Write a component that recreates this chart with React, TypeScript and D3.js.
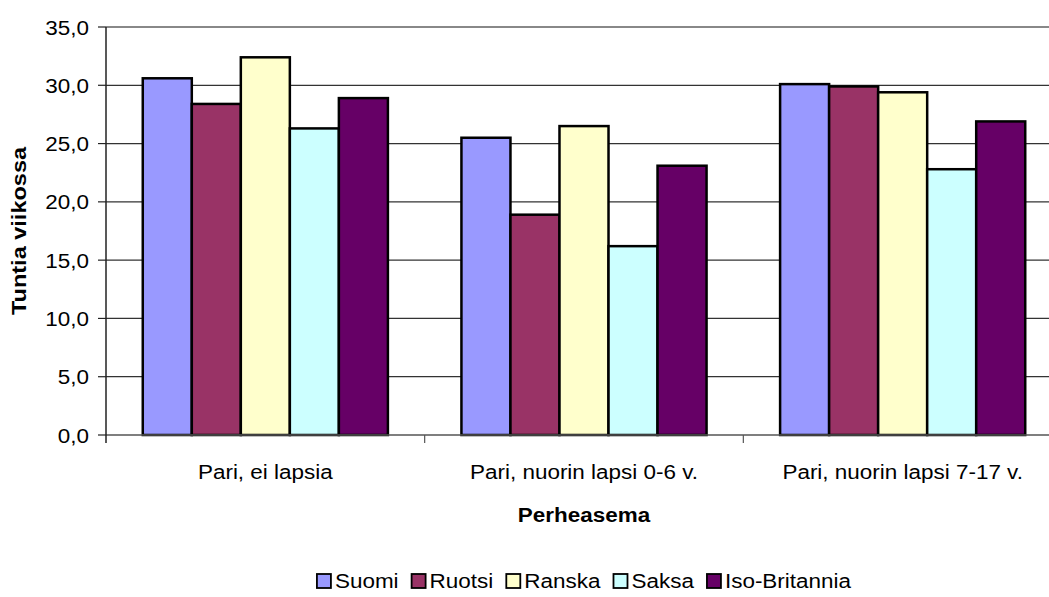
import React from "react";
import * as d3 from "d3";

const categories = ["Pari, ei lapsia", "Pari, nuorin lapsi 0-6 v.", "Pari, nuorin lapsi 7-17 v."];
const seriesNames = ["Suomi", "Ruotsi", "Ranska", "Saksa", "Iso-Britannia"];
const suomi = [30.6, 25.5, 30.1];
const ruotsi = [28.4, 18.9, 29.9];
const ranska = [32.4, 26.5, 29.4];
const saksa = [26.3, 16.2, 22.8];
const isoBritannia = [28.9, 23.1, 26.9];
const seriesColors = ["#9999FF", "#993366", "#FFFFCC", "#CCFFFF", "#660066"];
const yTicks = [0, 5, 10, 15, 20, 25, 30, 35];
const yTitle = "Tuntia viikossa";
const xTitle = "Perheasema";

const seriesValues = [suomi, ruotsi, ranska, saksa, isoBritannia];

const W = 1049;
const H = 597;
const FONT = "'Liberation Sans', Arial, sans-serif";
const FS = 21;
const SX = 1.07;

function measure(text: string, font: string): number {
  const c = document.createElement("canvas");
  const ctx = c.getContext("2d")!;
  ctx.font = font;
  return ctx.measureText(text).width;
}

function SText(props: { x: number; y: number; sx?: number; rotate?: number; anchor?: string; size: number; bold?: boolean; children: React.ReactNode; dy?: string }) {
  const { x, y, sx = SX, rotate = 0, anchor = "start", size, bold, children, dy } = props;
  return (
    <text
      transform={`translate(${x},${y}) rotate(${rotate}) scale(${sx},1)`}
      textAnchor={anchor}
      fontSize={size}
      fontWeight={bold ? "bold" : "normal"}
      fontFamily={FONT}
      fill="#000"
      dy={dy}
    >
      {children}
    </text>
  );
}

export default function App() {
  const left = 106, right = 1062, top = 27, bottom = 435;
  const y = d3.scaleLinear().domain([0, 35]).range([bottom, top]);
  const x0 = d3.scaleBand<string>().domain(categories).range([left, right]).padding(0);
  const x1 = d3.scaleBand<string>().domain(seriesNames).range([0, x0.bandwidth()]).paddingInner(0).paddingOuter(0.75);
  const fmt = (v: number) => d3.format(".1f")(v).replace(".", ",");

  // legend layout
  const legendFont = FS;
  const legendSX = SX;
  const sq = 14, sqGap = 4, itemGap = 13;
  const widths = seriesNames.map((s) => measure(s, `${legendFont}px ${FONT}`) * legendSX);
  const total = widths.reduce((a, b) => a + b, 0) + seriesNames.length * (sq + sqGap) + (seriesNames.length - 1) * itemGap;
  const cx = (left + right) / 2;
  let lx = cx - total / 2;
  const legendItems = seriesNames.map((s, i) => {
    const item = { name: s, x: lx, color: seriesColors[i] };
    lx += sq + sqGap + widths[i] + itemGap;
    return item;
  });
  const legendBase = 588;

  return (
    <svg width={W} height={H} style={{ position: "absolute", left: 0, top: 0, background: "#fff" }}>
      <rect x={0} y={0} width={W} height={H} fill="#fff" />
      {/* gridlines */}
      {yTicks.slice(1, -1).map((t) => (
        <line key={t} x1={left} x2={right} y1={y(t)} y2={y(t)} stroke="#333" strokeWidth={1.2} />
      ))}
      <line x1={left} x2={right} y1={y(35)} y2={y(35)} stroke="#888" strokeWidth={2} />
      {/* bars */}
      {categories.map((c, ci) => (
        <g key={c} transform={`translate(${x0(c)},0)`}>
          {seriesNames.map((s, si) => {
            const v = seriesValues[si][ci];
            return (
              <rect
                key={s}
                x={x1(s)!}
                y={y(v)}
                width={x1.bandwidth()}
                height={y(0) - y(v)}
                fill={seriesColors[si]}
                stroke="#000"
                strokeWidth={2.5}
              />
            );
          })}
        </g>
      ))}
      {/* axes */}
      <line x1={left} x2={right} y1={bottom} y2={bottom} stroke="#555" strokeWidth={1.5} />
      <line x1={left} x2={left} y1={top} y2={bottom + 8} stroke="#222" strokeWidth={1.5} />
      {yTicks.map((t) => (
        <g key={t}>
          <line x1={left - 8} x2={left} y1={y(t)} y2={y(t)} stroke="#222" strokeWidth={1.2} />
          <SText x={89} y={y(t)} anchor="end" size={FS} dy="0.36em">{fmt(t)}</SText>
        </g>
      ))}
      {categories.map((c, ci) => (
        <g key={c}>
          <line x1={x0(c)! + x0.bandwidth()} x2={x0(c)! + x0.bandwidth()} y1={bottom} y2={bottom + 8} stroke="#555" strokeWidth={1.2} />
          <SText x={x0(c)! + x0.bandwidth() / 2} y={479} anchor="middle" size={FS}>{c}</SText>
        </g>
      ))}
      <SText x={cx} y={522} anchor="middle" size={FS} bold sx={1.07}>{xTitle}</SText>
      <SText x={26} y={(top + bottom) / 2} anchor="middle" size={FS} bold sx={1.12} rotate={-90}>{yTitle}</SText>
      {/* legend */}
      {legendItems.map((it) => (
        <g key={it.name}>
          <rect x={it.x} y={legendBase - 14} width={sq} height={sq} fill={it.color} stroke="#000" strokeWidth={1.8} />
          <SText x={it.x + sq + sqGap} y={legendBase} anchor="start" size={legendFont} sx={legendSX}>{it.name}</SText>
        </g>
      ))}
    </svg>
  );
}
